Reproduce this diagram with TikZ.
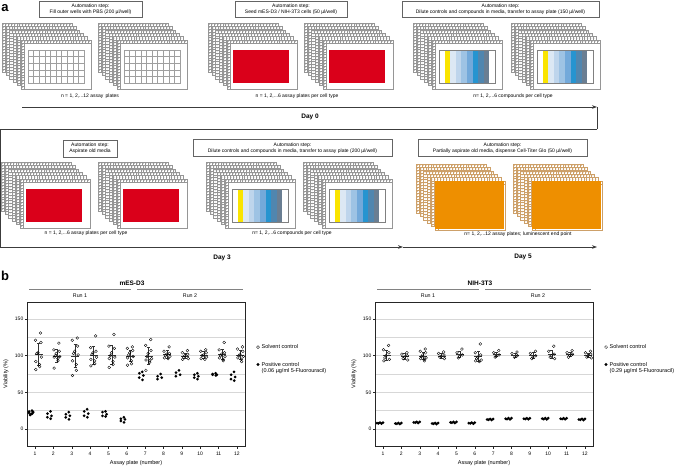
\documentclass[tikz,border=0pt]{standalone}
\usepackage{fontspec}
\setmainfont{Liberation Sans}
\usetikzlibrary{arrows.meta}
\definecolor{plategray}{RGB}{150,150,150}
\definecolor{boxgray}{RGB}{100,100,100}
\definecolor{tlgray}{RGB}{60,60,60}
\definecolor{redfill}{RGB}{218,0,26}
\definecolor{orangefill}{RGB}{238,143,0}
\definecolor{tanedge}{RGB}{205,160,105}
\definecolor{stY}{RGB}{250,228,0}
\definecolor{stA}{RGB}{220,232,244}
\definecolor{stB}{RGB}{190,213,236}
\definecolor{stC}{RGB}{158,195,228}
\definecolor{stD}{RGB}{115,169,218}
\definecolor{stE}{RGB}{38,148,208}
\definecolor{stF}{RGB}{80,134,175}
\definecolor{stG}{RGB}{106,126,146}
\definecolor{gridcol}{RGB}{215,215,215}
\definecolor{runcol}{RGB}{130,130,130}

\newcommand\onePlate[3]{%
  \filldraw[fill=white,draw=#3,line width=0.3pt] (#1,#2) rectangle ++(70,49);
  \draw[draw=#3,line width=0.15pt] (#1,#2+3) -- ++(70,0) (#1+3,#2+3) -- ++(0,46)
    foreach \i in {1,...,23} {(#1+\i*2.9167,#2) -- ++(0,3)}
    foreach \j in {1,...,15} {(#1,#2+3+\j*2.875) -- ++(3,0)};
  \fill[#3] foreach \i in {0,...,23} {(#1+1.46+\i*2.9167,#2+1.5) circle (0.35pt)}
    foreach \j in {0,...,15} {(#1+1.5,#2+4.44+\j*2.875) circle (0.35pt)};
}
\newcommand\plateStack[3]{%
  \foreach \kk in {5,4,3,2,1} {
    \pgfmathsetmacro\px{#1-3.8*\kk}
    \pgfmathsetmacro\py{#2-3.4*\kk}
    \onePlate{\px}{\py}{#3}
  }
  \onePlate{#1}{#2}{#3}
}
\newcommand\gridC[2]{%
  \draw[gray!75,line width=0.3pt] (#1+7,#2+10) rectangle (#1+63,#2+43)
    foreach \i in {1,...,9} {(#1+7+\i*5.6,#2+10) -- ++(0,33)}
    foreach \j in {1,...,4} {(#1+7,#2+10+\j*6.6) -- ++(56,0)};
}
\newcommand\redC[2]{\fill[redfill] (#1+6,#2+10) rectangle (#1+62,#2+43);}
\newcommand\stripeC[2]{%
  \foreach \c [count=\n from 0] in {white,stY,stA,stB,stC,stD,stE,stF,stG,white}
    {\fill[\c] (#1+7+\n*5.6,#2+10) rectangle ++(5.6,33);}
  \draw[gray,line width=0.3pt] (#1+7,#2+10) rectangle ++(56,33);
}
\newcommand\chartFrame[3]{%
  \draw[gridcol,line width=0.4pt] foreach \g in {0,25,...,150} {(27,{429-0.7333*\g}) -- (245,{429-0.7333*\g})};
  \draw[black!85,line width=0.5pt] (27,302) rectangle (245,446);
  \foreach \g in {0,50,100,150} {
    \draw[black!85,line width=0.4pt] (27,{429-0.7333*\g}) -- ++(-2.5,0);
    \node[ticklbl,anchor=east] (#1y\g) at (23.5,{429-0.7333*\g}) {\g};
  }
  \foreach \p in {1,...,12} {
    \draw[black!85,line width=0.4pt] ({35+(\p-1)*18.36},446) -- ++(0,2.5);
    \node[ticklbl] (#1x\p) at ({35+(\p-1)*18.36},453.5) {\p};
  }
  \node[ttl] (#1title) at (132,283) {#2};
  \draw[runl] (29,289) -- (131,289);
  \draw[runl] (137,289) -- (243,289);
  \node[runlbl] (#1r1) at (80,295.5) {Run 1};
  \node[runlbl] (#1r2) at (190,295.5) {Run 2};
  \node[axl] (#1xl) at (136,463.5) {Assay plate (number)};
  \node[axl,rotate=90] (#1yl) at (6,374) {Viability (\%)};
  \draw[black,line width=0.35pt] (258,347) circle (1.5pt);
  \node[leg,anchor=west] (#1l1) at (261.5,347) {Solvent control};
  \fill[black] (258,364.5) circle (1.6pt);
  \node[leg,anchor=west,align=left] (#1l2) at (261.5,368) {Positive control\\(#3 µg/ml 5-Fluorouracil)};
}
\newcommand\solvPts[1]{%
  \foreach \p/\vals in {#1} {
    \pgfmathsetmacro\tx{35+(\p-1)*18.36}
    \foreach \v [count=\k] in \vals {
      \pgfmathsetmacro\jx{\tx+3.5+3*sin(\k*137.5)}
      \pgfmathsetmacro\jy{429-0.7333*\v}
      \draw[black,line width=0.35pt] (\jx,\jy) circle (1.4pt);
    }
  }
}
\newcommand\posPts[1]{%
  \foreach \p/\vals in {#1} {
    \pgfmathsetmacro\tx{35+(\p-1)*18.36}
    \foreach \v [count=\k] in \vals {
      \pgfmathsetmacro\jx{\tx-4+2.2*sin(\k*151)}
      \pgfmathsetmacro\jy{429-0.7333*\v}
      \fill[black] (\jx,\jy) circle (1.5pt);
    }
  }
}
\newcommand\errBars[1]{%
  \foreach \p/\m/\sd in {#1} {
    \pgfmathsetmacro\tx{35+(\p-1)*18.36}
    \draw[black!80,line width=0.35pt]
      (\tx+3.5,{429-0.7333*(\m-\sd)}) -- (\tx+3.5,{429-0.7333*(\m+\sd)})
      (\tx-0.5,{429-0.7333*\m}) -- (\tx+7.5,{429-0.7333*\m})
      (\tx+2,{429-0.7333*(\m-\sd)}) -- ++(3,0)
      (\tx+2,{429-0.7333*(\m+\sd)}) -- ++(3,0);
  }
}
\newcommand\blobPts[1]{%
  \foreach \p/\v in {#1} {
    \pgfmathsetmacro\tx{35+(\p-1)*18.36}
    \foreach \k in {0,1,2,3,4} {
      \pgfmathsetmacro\jx{\tx-6+1.5*\k}
      \pgfmathsetmacro\jy{429-0.7333*\v+0.6*sin(\k*150)}
      \fill[black] (\jx,\jy) circle (1.5pt);
    }
  }
}

\begin{document}
\begin{tikzpicture}[x=1pt,y=-1pt,
  abox/.style={draw=boxgray,line width=0.5pt,fill=white,align=center,inner sep=0pt,font=\fontsize{5}{6.3}\selectfont},
  lbl/.style={font=\fontsize{5}{6}\selectfont,inner sep=0pt},
  daylbl/.style={font=\bfseries\fontsize{6.5}{7.5}\selectfont,inner sep=0pt},
  panel/.style={font=\bfseries\fontsize{13}{13}\selectfont,inner sep=0pt},
  tl/.style={draw=tlgray,line width=0.7pt},
  tip/.style={-{Stealth[length=5pt,width=3.6pt]}},
  ticklbl/.style={font=\fontsize{5}{6}\selectfont,inner sep=0pt},
  ttl/.style={font=\bfseries\fontsize{6.5}{7.5}\selectfont,inner sep=0pt},
  runl/.style={draw=runcol,line width=0.6pt},
  runlbl/.style={font=\fontsize{5.3}{6}\selectfont,inner sep=0pt},
  axl/.style={font=\fontsize{5.5}{6.5}\selectfont,inner sep=0pt},
  leg/.style={font=\fontsize{5.5}{6.6}\selectfont,inner sep=0pt}]
\fill[white] (0,0) rectangle (685,469);
\useasboundingbox (0,0) rectangle (685,469);

% ---------- panel a ----------
\node[panel] (pa) at (5,8) {a};

% timeline
\coordinate (t0) at (22,107);
\coordinate (t1) at (597,107);
\coordinate (t2) at (597,129);
\coordinate (t3) at (0.5,129);
\coordinate (t4) at (0.5,247);
\coordinate (t5) at (403,247);
\coordinate (t6) at (597,247);
\draw[tl,tip] (t0) -- (t1);
\draw[tl] (t1) -- (t2);
\draw[tl,tip] (t2) -- (t3) -- (t4) -- (t5);
\draw[tl,tip] (t5) -- (t6);
\node[daylbl] (d0) at (310,117) {Day 0};
\node[daylbl] (d3) at (222,258) {Day 3};
\node[daylbl] (d5) at (523,257) {Day 5};

% row 1
\node[abox,minimum width=103pt,minimum height=16pt] (b1) at (90.5,9) {Automation step:\\Fill outer wells with PBS (200 µl/well)};
\plateStack{21}{40}{plategray}\gridC{21}{40}
\plateStack{117}{40}{plategray}\gridC{117}{40}
\node[lbl] (n1) at (90,96) {n = 1, 2,...12 assay \,plates};

\node[abox,minimum width=112pt,minimum height=16pt] (b2) at (291,9) {Automation step:\\Seed mES-D3 / NIH-3T3 cells (50 µl/well)};
\plateStack{227}{40}{plategray}\redC{227}{40}
\plateStack{323}{40}{plategray}\redC{323}{40}
\node[lbl] (n2) at (297,96) {n = 1, 2,...6 assay plates per cell type};

\node[abox,minimum width=197pt,minimum height=16pt] (b3) at (500.5,9) {Automation step:\\Dilute controls and compounds in media, transfer to assay plate (150 µl/well)};
\plateStack{432}{40}{plategray}\stripeC{432}{40}
\plateStack{530}{40}{plategray}\stripeC{530}{40}
\node[lbl] (n3) at (513,96) {n= 1, 2,...6 compounds per cell type};

% row 2
\node[abox,minimum width=54pt,minimum height=17pt] (b4) at (90,148.5) {Automation step:\\Aspirate old media};
\plateStack{20}{179}{plategray}\redC{20}{179}
\plateStack{117}{179}{plategray}\redC{117}{179}
\node[lbl] (n4) at (86,233) {n = 1, 2,...6 assay plates per cell type};

\node[abox,minimum width=199pt,minimum height=17pt] (b5) at (292.5,148) {Automation step:\\Dilute controls and compounds in media, transfer to assay plate (200 µl/well)};
\plateStack{225}{179}{plategray}\stripeC{225}{179}
\plateStack{322}{179}{plategray}\stripeC{322}{179}
\node[lbl] (n5) at (292,233) {n= 1, 2,...6 compounds per cell type};

\node[abox,minimum width=169pt,minimum height=17pt] (b6) at (502.5,148) {Automation step:\\Partially aspirate old media, dispense Cell-Titer Glo (50 µl/well)};
\plateStack{435}{181}{tanedge}\fill[orangefill] (435,181) rectangle ++(69,48);
\plateStack{532}{181}{tanedge}\fill[orangefill] (532,181) rectangle ++(69,48);
\node[lbl] (n6) at (518,234) {n= 1, 2,...12 assay plates; luminescent end point};

% ---------- panel b ----------
\node[panel] (pb) at (5,276) {b};

\chartFrame{L}{mES-D3}{0.06}
\errBars{1/102/15,2/100/9,3/100/16,4/101/12,5/101/13,6/100/8,7/100/11,8/102/5,9/100/4,10/101/5,11/102/7,12/101/6}
\solvPts{1/{131,121,118,104,103,98,92,88,85,81},
  2/{117,108,106,103,100,99,98,96,93,83},
  3/{124,121,113,106,103,101,93,88,80,73},
  4/{127,111,106,104,102,98,95,93,89,86},
  5/{129,113,110,104,100,98,96,92,88,84},
  6/{112,110,107,104,101,99,97,93,89,87},
  7/{122,114,107,103,99,96,94,93,91,80},
  8/{112,106,103,102,100,99,97,96},
  9/{107,104,102,100,98,96,95},
  10/{108,106,104,101,100,98,96,95},
  11/{118,108,104,102,100,99,97,95,93},
  12/{112,109,106,102,100,99,97,95,92}}
\posPts{1/{25,24,23,22,21,20,19,23},
  2/{24,21,18,16,14},
  3/{23,20,18,16,13},
  4/{27,24,21,18,16},
  5/{24,23,20,18,17},
  6/{16,14,13,11,9},
  7/{78,76,73,70,67},
  8/{75,72,70,68},
  9/{80,77,74,72},
  10/{76,74,72,70,68},
  11/{76,75,74,74,73},
  12/{78,74,71,68,66}}

\begin{scope}[xshift=348pt]
\chartFrame{R}{NIH-3T3}{0.29}
\errBars{1/101/7,2/99/4,3/100/5,4/100/3,5/102/4,6/99/7,7/102/3,8/101/3,9/101/4,10/102/5,11/102/3,12/101/3}
\solvPts{1/{114,108,104,100,97,95,93},
  2/{104,102,100,98,96,94},
  3/{109,106,104,101,99,97,96,95,93},
  4/{105,103,101,99,98,96},
  5/{109,104,101,99,97},
  6/{116,104,101,98,96,94,93,92},
  7/{107,104,101,99,98},
  8/{105,103,100,98},
  9/{106,103,100,98,96},
  10/{113,106,102,100,98,96},
  11/{107,104,102,100,98},
  12/{106,104,102,100,98,97}}
\blobPts{1/8,2/7.5,3/9,4/7.5,5/9,6/8,7/13,8/14,9/14,10/14,11/14,12/13}
\end{scope}
\end{tikzpicture}
\end{document}
